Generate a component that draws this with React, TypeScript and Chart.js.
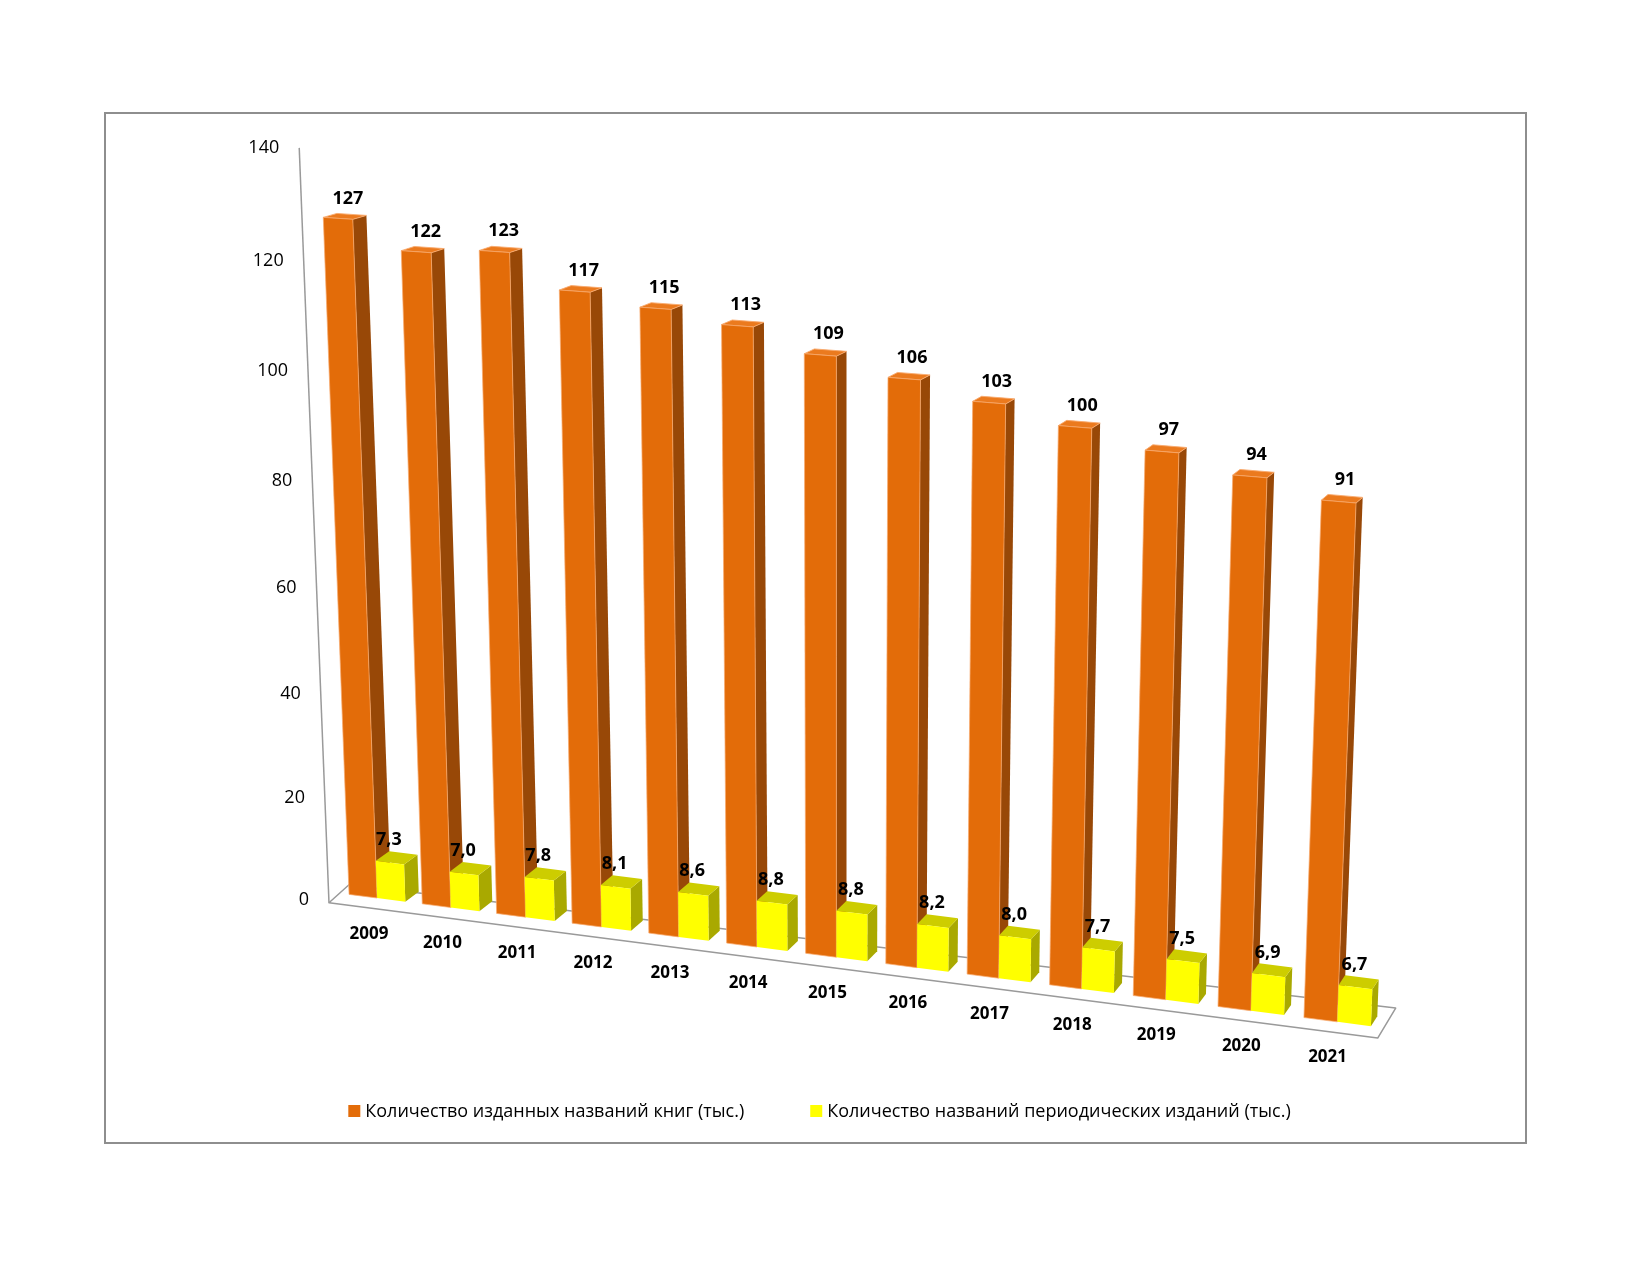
import React, { useEffect, useRef } from "react";
import { Chart, registerables } from "chart.js";

Chart.register(...registerables);

const years = ["2009", "2010", "2011", "2012", "2013", "2014", "2015", "2016", "2017", "2018", "2019", "2020", "2021"];
const booksTitles = [127, 122, 123, 117, 115, 113, 109, 106, 103, 100, 97, 94, 91];
const periodicalsTitles = [7.3, 7.0, 7.8, 8.1, 8.6, 8.8, 8.8, 8.2, 8.0, 7.7, 7.5, 6.9, 6.7];
const yTickValues = [0, 20, 40, 60, 80, 100, 120, 140];
const seriesNames = [
  "Количество изданных названий книг (тыс.)",
  "Количество названий периодических изданий (тыс.)",
];

const FRONT = ["#E36C09", "#FFFF00"];
const SIDE = ["#984807", "#A9A900"];
const TOP = ["#EB7A1E", "#CDCD00"];
const EDGE: (string | null)[] = ["rgba(248,170,110,0.9)", null];
const FONT = '"Open Sans", "DejaVu Sans", sans-serif';

const fmt = [(v: number) => String(v), (v: number) => v.toFixed(1).replace(".", ",")];

// projection constants (pseudo-perspective)
const K = 0.129; // floor slope
const A = 8.6e-5; // height growth towards the viewer
const C = 7.8e-5; // lean away from the centre
const MX1 = 0.9108; // horizontal foreshortening
const MX2 = 8.99e-5;
const HB = 42; // vertical foreshortening (px at mid height)

type Pt = [number, number];

function geom(chart: any) {
  const xs = chart.scales.x;
  const ys = chart.scales.y;
  const base0 = ys.getPixelForValue(0);
  const x0 = xs.getPixelForValue(0);
  const xEnd = xs.getPixelForValue(years.length - 1);
  const span = xEnd - x0;
  const Hf = base0 - ys.top;
  const M = (x: number) => {
    const d = x - x0;
    return MX1 * d + MX2 * d * d;
  };
  const dc = M((x0 + xEnd) / 2);
  const H = Hf * 0.9;
  const V = (v: number) => {
    const h = base0 - v;
    const u = h / Hf;
    return h - HB * u * (1 - u);
  };
  const P = (x: number, v: number): Pt => {
    const h = V(v);
    const dm = M(x);
    return [x0 + dm + (dm - dc) * C * h, base0 + K * dm - h * (1 + A * dm)];
  };
  const D = (x: number, v: number): Pt => {
    const h = base0 - v;
    const t = (x - x0) / span;
    return [13.5 - 7 * t, -(10 - (6 * h) / H)];
  };
  return { xs, ys, base0, H, Hf, P, D, area: chart.chartArea };
}

const add = (p: Pt, q: Pt): Pt => [p[0] + q[0], p[1] + q[1]];

function poly(ctx: CanvasRenderingContext2D, pts: Pt[], fill: string | null, stroke?: string | null, lw = 1) {
  ctx.beginPath();
  ctx.moveTo(pts[0][0], pts[0][1]);
  for (let i = 1; i < pts.length; i++) ctx.lineTo(pts[i][0], pts[i][1]);
  ctx.closePath();
  if (fill) {
    ctx.fillStyle = fill;
    ctx.fill();
  }
  if (stroke) {
    ctx.strokeStyle = stroke;
    ctx.lineWidth = lw;
    ctx.stroke();
  }
}

const perspective3D = {
  id: "perspective3D",
  beforeDatasetDraw() {
    return false;
  },
  beforeDatasetsDraw(chart: any) {
    const g = geom(chart);
    const ctx: CanvasRenderingContext2D = chart.ctx;
    const xL = g.area.left - 13;
    const xR = g.area.right - 3;
    const bl = g.P(xL, g.base0);
    const br = g.P(xR, g.base0);
    ctx.save();
    ctx.lineJoin = "round";
    poly(
      ctx,
      [add(bl, [0, 11]), add(br, [0, 11]), add(br, [18, -19]), add(bl, [20, -7])],
      null,
      "#9a9a9a",
      1.5
    );
    // vertical axis
    const top = g.P(xL, g.ys.top);
    ctx.beginPath();
    ctx.moveTo(bl[0], bl[1] + 11);
    ctx.lineTo(top[0], top[1] + 5);
    ctx.strokeStyle = "#9a9a9a";
    ctx.lineWidth = 1.5;
    ctx.stroke();
    // y tick labels
    ctx.font = `18px ${FONT}`;
    ctx.fillStyle = "#000";
    ctx.textAlign = "right";
    ctx.textBaseline = "middle";
    yTickValues.forEach((v) => {
      const py = g.ys.getPixelForValue(v);
      const p = g.P(xL, py);
      const h = g.base0 - py;
      ctx.fillText(String(v), p[0] - 20, p[1] + 8 - (3 * h) / g.Hf);
    });
    ctx.restore();
  },
  afterDatasetsDraw(chart: any) {
    const g = geom(chart);
    const ctx: CanvasRenderingContext2D = chart.ctx;
    const metas = [chart.getDatasetMeta(0), chart.getDatasetMeta(1)];
    ctx.save();
    ctx.lineJoin = "round";
    for (let i = 0; i < years.length; i++) {
      for (let d = 0; d < 2; d++) {
        const el = metas[d].data[i];
        const { x, y, base, width } = el.getProps(["x", "y", "base", "width"], true);
        const xl = x - width / 2;
        const xr = x + width / 2;
        const ftl = g.P(xl, y);
        const ftr = g.P(xr, y);
        const fbr = g.P(xr, base);
        const fbl = g.P(xl, base);
        const dt = g.D(x, y);
        const db = g.D(x, base);
        poly(ctx, [ftr, add(ftr, dt), add(fbr, db), fbr], SIDE[d]);
        poly(ctx, [ftl, add(ftl, dt), add(ftr, dt), ftr], TOP[d], EDGE[d], 1);
        poly(ctx, [ftl, ftr, fbr, fbl], FRONT[d], EDGE[d], 0.8);
      }
    }
    // data labels
    ctx.font = `bold 18px ${FONT}`;
    ctx.fillStyle = "#000";
    ctx.textAlign = "center";
    ctx.textBaseline = "middle";
    for (let i = 0; i < years.length; i++) {
      for (let d = 0; d < 2; d++) {
        const el = metas[d].data[i];
        const { x, y } = el.getProps(["x", "y"], true);
        const f = g.P(x, y);
        const dt = g.D(x, y);
        const lx = f[0] + (d === 0 ? dt[0] / 2 + 3 : -1);
        const ly = f[1] + dt[1] - (d === 0 ? 16 : 13);
        const val = chart.data.datasets[d].data[i] as number;
        ctx.fillText(fmt[d](val), lx, ly);
      }
    }
    // category labels
    ctx.font = `bold 17px ${FONT}`;
    years.forEach((lab, i) => {
      const cx = g.xs.getPixelForValue(i);
      const p = g.P(cx - 9, g.base0);
      ctx.fillText(lab, p[0], p[1] + 37);
    });
    ctx.restore();
  },
  afterDraw(chart: any) {
    const ctx: CanvasRenderingContext2D = chart.ctx;
    const dss = chart.data.datasets;
    ctx.save();
    ctx.font = `18px ${FONT}`;
    const box = 12;
    const gapBox = 5;
    const gapItem = 66;
    const widths = dss.map((ds: any) => ctx.measureText(ds.label).width);
    const total = widths.reduce((s: number, w: number) => s + box + gapBox + w, 0) + gapItem * (dss.length - 1);
    let cx = chart.width / 2 + 4 - total / 2;
    const cy = chart.height - 31;
    ctx.textAlign = "left";
    ctx.textBaseline = "middle";
    dss.forEach((ds: any, i: number) => {
      ctx.fillStyle = ds.backgroundColor;
      ctx.fillRect(cx, cy - box / 2, box, box);
      ctx.fillStyle = "#000";
      ctx.fillText(ds.label, cx + box + gapBox, cy + 1);
      cx += box + gapBox + widths[i] + gapItem;
    });
    ctx.restore();
  },
};

export default function App() {
  const ref = useRef<HTMLCanvasElement | null>(null);
  useEffect(() => {
    if (!ref.current) return;
    const chart = new Chart(ref.current, {
      type: "bar",
      data: {
        labels: years,
        datasets: [
          { label: seriesNames[0], data: booksTitles, backgroundColor: FRONT[0] },
          { label: seriesNames[1], data: periodicalsTitles, backgroundColor: FRONT[1] },
        ],
      },
      options: {
        animation: false,
        responsive: false,
        events: [],
        layout: { padding: { left: 231, right: 145, top: 32, bottom: 244 } },
        datasets: { bar: { categoryPercentage: 0.77, barPercentage: 1 } },
        scales: {
          x: { display: false },
          y: { display: false, min: 0, max: 140 },
        },
        plugins: { legend: { display: false }, tooltip: { enabled: false } },
      } as any,
      plugins: [perspective3D as any],
    });
    return () => chart.destroy();
  }, []);
  return (
    <div
      style={{
        position: "absolute",
        left: 104,
        top: 112,
        width: 1423,
        height: 1032,
        border: "2px solid #8e8e8e",
        boxSizing: "border-box",
        background: "#fff",
      }}
    >
      <canvas ref={ref} width={1419} height={1028} style={{ display: "block" }} />
    </div>
  );
}
